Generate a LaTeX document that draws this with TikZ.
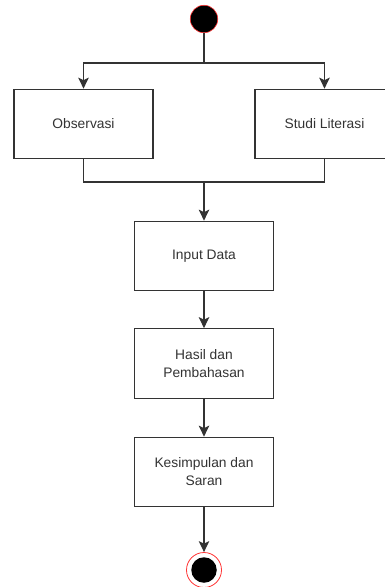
\documentclass[tikz,border=0pt]{standalone}
\usepackage{fontspec}
\setmainfont{Liberation Sans}
\usetikzlibrary{arrows.meta}
\definecolor{ln}{HTML}{333333}
\definecolor{rd}{HTML}{FF3333}
\begin{document}
\begin{tikzpicture}[x=1pt,y=-1pt,
  box/.style={draw=ln, line width=1.2pt, minimum width=139pt, minimum height=69.5pt, inner sep=0pt,
    align=center, text=ln, font=\fontsize{13.8pt}{18pt}\selectfont},
  conn/.style={draw=ln, line width=1.2pt},
  arr/.style={conn, -{Stealth[length=11pt,width=10.5pt,inset=2.5pt]}}]
\useasboundingbox (0,0) rectangle (385,587);
\node[circle, fill=black, draw=rd, line width=0.6pt, minimum size=27.5pt, inner sep=0pt] (start) at (204,19) {};
\node[box] (obs) at (83.5,124) {Observasi};
\node[box] (stu) at (324.5,124) {Studi Literasi};
\node[box] (inp) at (204,256) {Input Data};
\node[box] (has) at (204,363.5) {Hasil dan\\Pembahasan};
\node[box] (kes) at (204,472) {Kesimpulan dan\\Saran};
\node[circle, draw=rd, line width=0.8pt, minimum size=35pt, inner sep=0pt] (end) at (204,570) {};
\node[circle, fill=black, minimum size=25.5pt, inner sep=0pt] (endin) at (204,570) {};
\coordinate (fork) at (204,63);
\coordinate (join) at (204,182);
\draw[conn] (start) -- (fork);
\draw[arr] (fork) -| (obs.north);
\draw[arr] (fork) -| (stu.north);
\draw[conn] (obs.south) |- (join);
\draw[conn] (stu.south) |- (join);
\draw[arr] (join) -- (inp);
\draw[arr] (inp) -- (has);
\draw[arr] (has) -- (kes);
\draw[arr] (kes) -- (end);
\end{tikzpicture}
\end{document}
